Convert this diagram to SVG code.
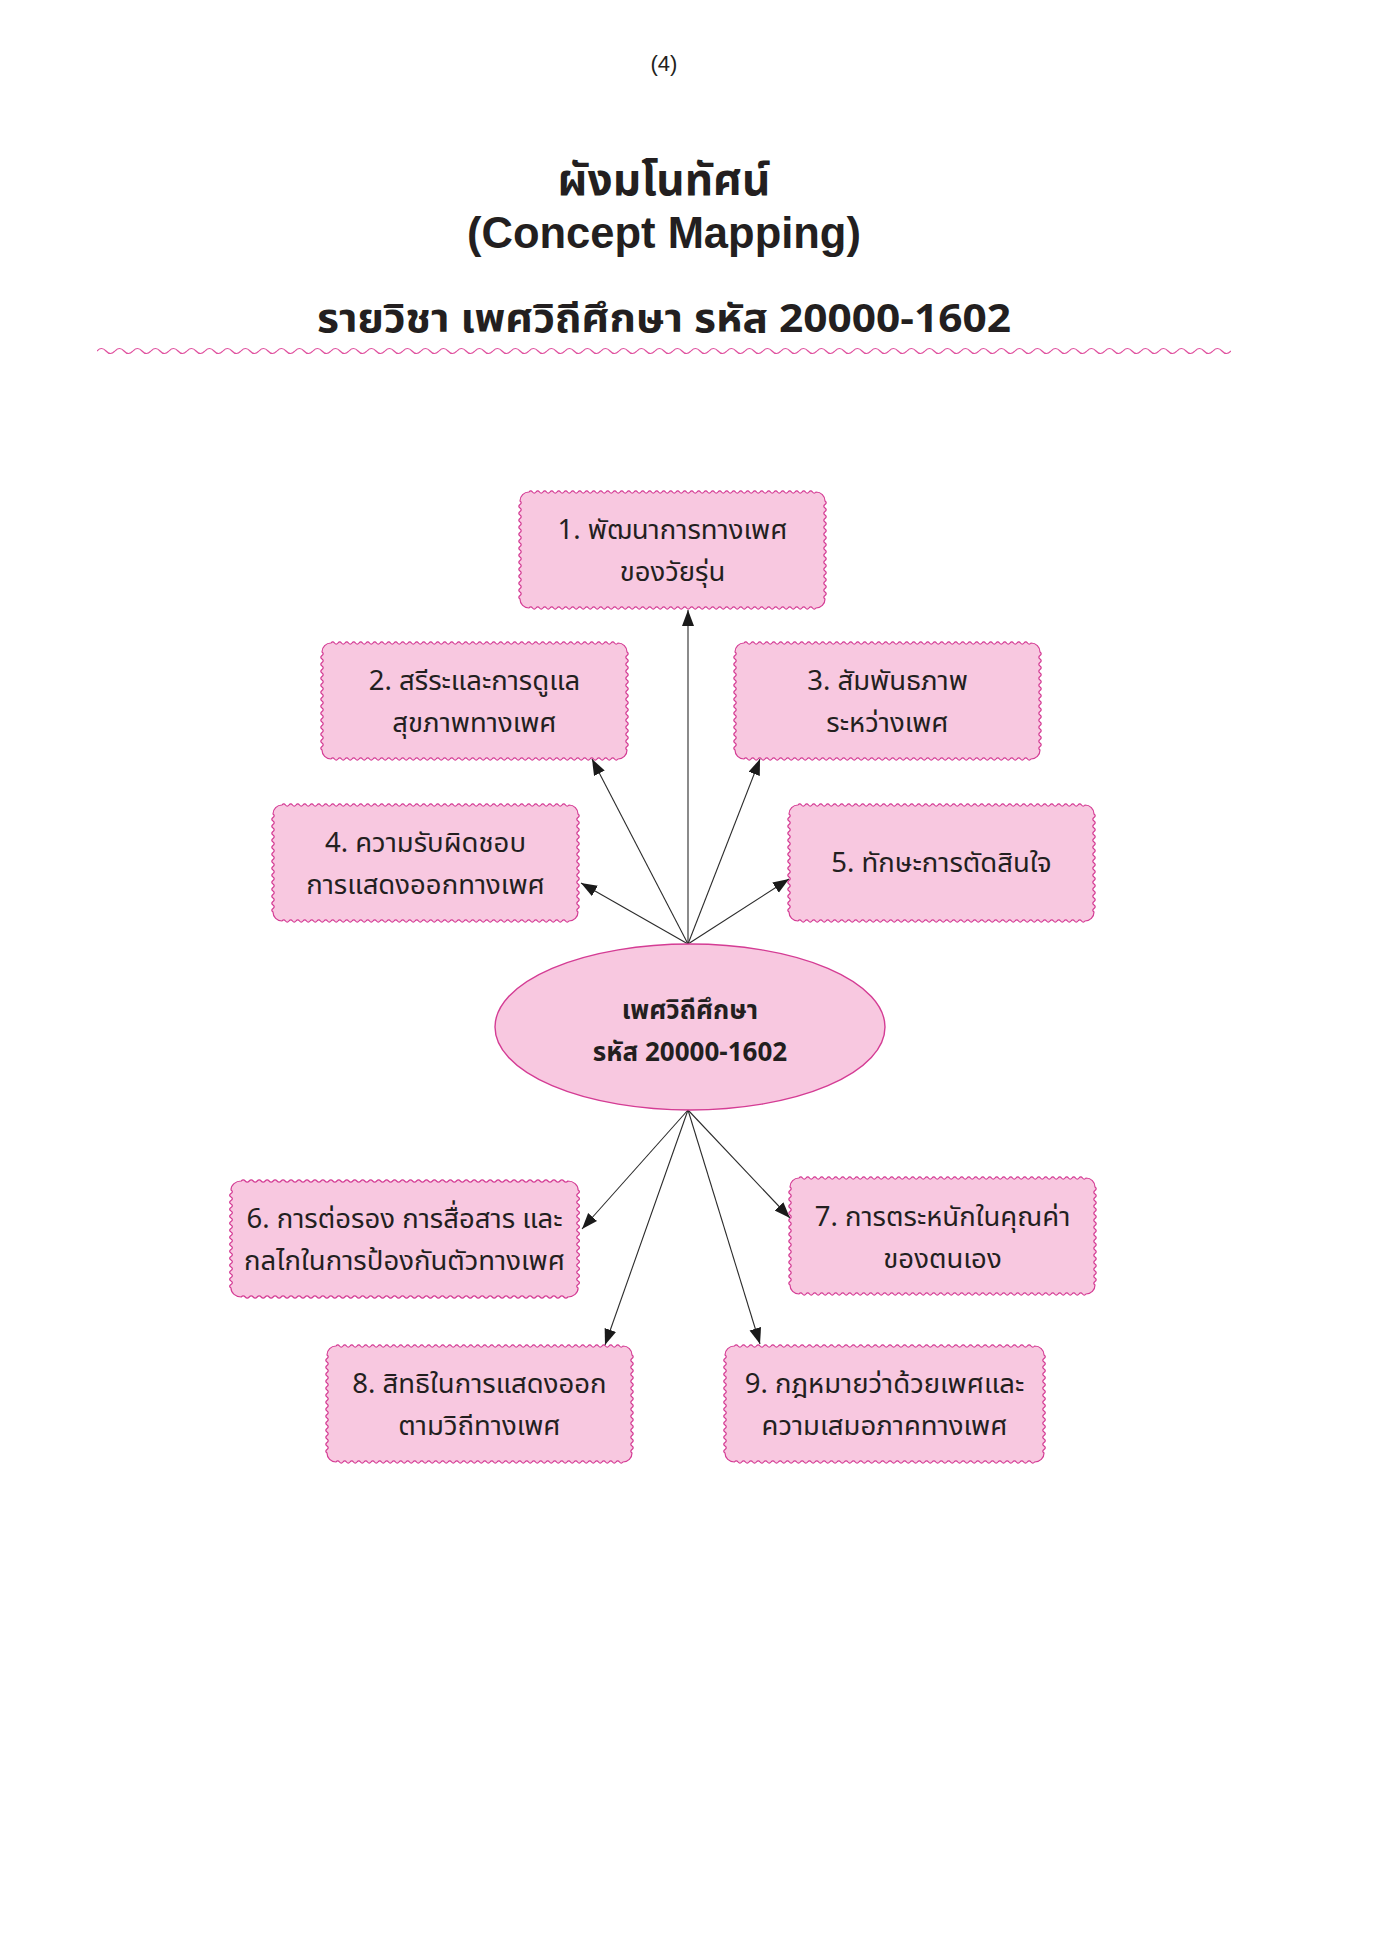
<svg xmlns="http://www.w3.org/2000/svg" xmlns:xlink="http://www.w3.org/1999/xlink" width="1398" height="1957" viewBox="0 0 1398 1957">
<style>
.box{fill:#f8c8e0;stroke:#d43c94;stroke-width:1.2}
.ell{fill:#f8c8e0;stroke:#d43c94;stroke-width:1.4}
.t{font-family:"Noto Sans Thai","Loma","Garuda","Noto Sans","DejaVu Sans",sans-serif;font-size:27.5px;fill:#231f20;text-anchor:middle}
.b{font-weight:bold;font-size:26px}
.h{font-family:"Noto Sans Thai","Liberation Sans","Noto Sans",sans-serif;fill:#231f20;text-anchor:middle;font-weight:bold}
.c{stroke:#2b2b2b;stroke-width:1.1;fill:none;marker-end:url(#ah)}
</style>
<defs>
<marker id="ah" markerUnits="userSpaceOnUse" markerWidth="18" markerHeight="14" refX="16" refY="6" orient="auto">
<path d="M0,0 L16,6 L0,12 z" fill="#1a1a1a"/>
</marker>
<pattern id="wv" x="97" y="345" width="18" height="12" patternUnits="userSpaceOnUse">
<path d="M0 6q4.5 -5 9 0t9 0" fill="none" stroke="#e0509e" stroke-width="1.2"/>
</pattern>
<path id="wbox" vector-effect="non-scaling-stroke" d="M9 0q1.75 -2.4 3.5 0t
3.5 0 3.5 0 3.5 0 3.5 0 3.5 0 3.5 0 3.5 0 3.5 0 3.5 0 3.5 0
3.5 0 3.5 0 3.5 0 3.5 0 3.5 0 3.5 0 3.5 0 3.5 0 3.5 0 3.5 0
3.5 0 3.5 0 3.5 0 3.5 0 3.5 0 3.5 0 3.5 0 3.5 0 3.5 0 3.5 0
3.5 0 3.5 0 3.5 0 3.5 0 3.5 0 3.5 0 3.5 0 3.5 0 3.5 0 3.5 0
3.5 0 3.5 0 3.5 0 3.5 0 3.5 0 3.5 0 3.5 0 3.5 0 3.5 0 3.5 0
3.5 0 3.5 0 3.5 0 3.5 0 3.5 0 3.5 0 3.5 0 3.5 0 3.5 0 3.5 0
3.5 0 3.5 0 3.5 0 3.5 0 3.5 0 3.5 0 3.5 0 3.5 0 3.5 0 3.5 0
3.5 0 3.5 0 3.5 0 3.5 0 3.5 0 3.5 0 3.5 0 3.5 0 3.5 0 3.5 0
3.5 0
A9 9 0 0 1 305 9
q2.4 1.75 0 3.5t
0 3.5 0 3.5 0 3.5 0 3.5 0 3.5 0 3.5 0 3.5 0 3.5 0 3.5 0 3.5
0 3.5 0 3.5 0 3.5 0 3.5 0 3.5 0 3.5 0 3.5 0 3.5 0 3.5 0 3.5
0 3.5 0 3.5 0 3.5 0 3.5 0 3.5 0 3.5 0 3.5
A9 9 0 0 1 296 116
q-1.75 2.4 -3.5 0t
-3.5 0 -3.5 0 -3.5 0 -3.5 0 -3.5 0 -3.5 0 -3.5 0 -3.5 0 -3.5 0 -3.5 0
-3.5 0 -3.5 0 -3.5 0 -3.5 0 -3.5 0 -3.5 0 -3.5 0 -3.5 0 -3.5 0 -3.5 0
-3.5 0 -3.5 0 -3.5 0 -3.5 0 -3.5 0 -3.5 0 -3.5 0 -3.5 0 -3.5 0 -3.5 0
-3.5 0 -3.5 0 -3.5 0 -3.5 0 -3.5 0 -3.5 0 -3.5 0 -3.5 0 -3.5 0 -3.5 0
-3.5 0 -3.5 0 -3.5 0 -3.5 0 -3.5 0 -3.5 0 -3.5 0 -3.5 0 -3.5 0 -3.5 0
-3.5 0 -3.5 0 -3.5 0 -3.5 0 -3.5 0 -3.5 0 -3.5 0 -3.5 0 -3.5 0 -3.5 0
-3.5 0 -3.5 0 -3.5 0 -3.5 0 -3.5 0 -3.5 0 -3.5 0 -3.5 0 -3.5 0 -3.5 0
-3.5 0 -3.5 0 -3.5 0 -3.5 0 -3.5 0 -3.5 0 -3.5 0 -3.5 0 -3.5 0 -3.5 0
-3.5 0
A9 9 0 0 1 0 107
q-2.4 -1.75 0 -3.5t
0 -3.5 0 -3.5 0 -3.5 0 -3.5 0 -3.5 0 -3.5 0 -3.5 0 -3.5 0 -3.5 0 -3.5
0 -3.5 0 -3.5 0 -3.5 0 -3.5 0 -3.5 0 -3.5 0 -3.5 0 -3.5 0 -3.5 0 -3.5
0 -3.5 0 -3.5 0 -3.5 0 -3.5 0 -3.5 0 -3.5 0 -3.5
A9 9 0 0 1 9 0z"/>
</defs>
<rect width="1398" height="1957" fill="#ffffff"/>

<g id="header">
<text x="664" y="71" style="font-family:'Liberation Sans Narrow','Liberation Sans',sans-serif;font-size:22px;fill:#231f20;text-anchor:middle">(4)</text>
<text class="h" x="664" y="195" style="font-size:44px">ผังมโนทัศน์</text>
<text class="h" x="664" y="248" style="font-family:'Liberation Sans',sans-serif;font-size:43.5px">(Concept Mapping)</text>
<text class="h" x="664" y="332" style="font-size:39px" textLength="694" lengthAdjust="spacingAndGlyphs">รายวิชา เพศวิถีศึกษา รหัส 20000-1602</text>
<rect x="97" y="345" width="1134" height="12" fill="url(#wv)"/>
</g>

<g id="connectors">
<line class="c" x1="688" y1="944" x2="688" y2="610"/>
<line class="c" x1="688" y1="944" x2="592" y2="759"/>
<line class="c" x1="688" y1="944" x2="760" y2="759"/>
<line class="c" x1="688" y1="944" x2="581" y2="883"/>
<line class="c" x1="688" y1="944" x2="789" y2="879"/>
<line class="c" x1="688" y1="1110" x2="582" y2="1229"/>
<line class="c" x1="688" y1="1110" x2="790" y2="1218"/>
<line class="c" x1="688" y1="1110" x2="605" y2="1345"/>
<line class="c" x1="688" y1="1110" x2="760" y2="1344"/>
</g>

<g id="center">
<ellipse class="ell" cx="690" cy="1027" rx="195" ry="83"/>
<text class="t b" x="690" y="1019">เพศวิถีศึกษา</text>
<text class="t b" x="690" y="1061">รหัส 20000-1602</text>
</g>

<g id="n1">
<use class="box" xlink:href="#wbox" transform="translate(520,492)"/>
<text class="t" x="672.5" y="539">1. พัฒนาการทางเพศ</text>
<text class="t" x="672.5" y="581">ของวัยรุ่น</text>
</g>
<g id="n2">
<use class="box" xlink:href="#wbox" transform="translate(322,643)"/>
<text class="t" x="474.5" y="690">2. สรีระและการดูแล</text>
<text class="t" x="474.5" y="732">สุขภาพทางเพศ</text>
</g>
<g id="n3">
<use class="box" xlink:href="#wbox" transform="translate(735,643)"/>
<text class="t" x="887.5" y="690">3. สัมพันธภาพ</text>
<text class="t" x="887.5" y="732">ระหว่างเพศ</text>
</g>
<g id="n4">
<use class="box" xlink:href="#wbox" transform="translate(273,805)"/>
<text class="t" x="425.5" y="852">4. ความรับผิดชอบ</text>
<text class="t" x="425.5" y="894">การแสดงออกทางเพศ</text>
</g>
<g id="n5">
<use class="box" xlink:href="#wbox" transform="translate(789,805)"/>
<text class="t" x="941.5" y="872">5. ทักษะการตัดสินใจ</text>
</g>
<g id="n6">
<use class="box" xlink:href="#wbox" transform="translate(231,1181) scale(1.138,1)"/>
<text class="t" x="404.5" y="1228">6. การต่อรอง การสื่อสาร และ</text>
<text class="t" x="404.5" y="1270">กลไกในการป้องกันตัวทางเพศ</text>
</g>
<g id="n7">
<use class="box" xlink:href="#wbox" transform="translate(790,1178)"/>
<text class="t" x="942.5" y="1226">7. การตระหนักในคุณค่า</text>
<text class="t" x="942.5" y="1268">ของตนเอง</text>
</g>
<g id="n8">
<use class="box" xlink:href="#wbox" transform="translate(327,1346)"/>
<text class="t" x="479.5" y="1393">8. สิทธิในการแสดงออก</text>
<text class="t" x="479.5" y="1435">ตามวิถีทางเพศ</text>
</g>
<g id="n9">
<use class="box" xlink:href="#wbox" transform="translate(725,1346) scale(1.046,1)"/>
<text class="t" x="884.5" y="1393">9. กฎหมายว่าด้วยเพศและ</text>
<text class="t" x="884.5" y="1435">ความเสมอภาคทางเพศ</text>
</g>
</svg>
